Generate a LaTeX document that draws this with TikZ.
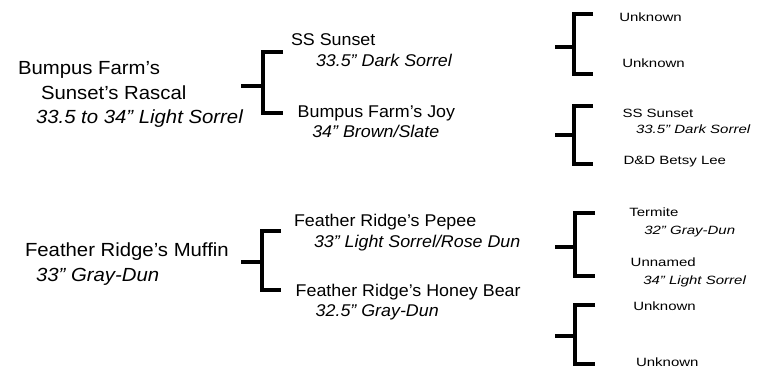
\documentclass[tikz,border=0pt]{standalone}
\usepackage{fontspec}
\usepackage{graphicx}
\setmainfont{Liberation Sans}
\newcommand\bigt[1]{\scalebox{1.07}[1]{#1}}
\newcommand\midt[1]{\scalebox{1.05}[1]{#1}}
\newcommand\smlt[1]{\scalebox{1.25}[1]{#1}}
\tikzset{
  lbl/.style={anchor=base west, inner sep=0pt, outer sep=0pt},
  bigl/.style={lbl, font=\fontsize{19}{23}\selectfont},
  midl/.style={lbl, font=\fontsize{17}{20}\selectfont},
  smll/.style={lbl, font=\fontsize{12}{14}\selectfont},
  brk/.style={line width=3.5pt, line join=miter, line cap=butt, black}
}
% bracket: name, x0 (stem start), x1 (vertical), x2 (arm end), ytop, ymid, ybot
\newcommand\pedbracket[7]{%
  \coordinate (#1-s) at (#2,#6);
  \coordinate (#1-m) at (#3,#6);
  \coordinate (#1-t) at (#4,#5);
  \coordinate (#1-b) at (#4,#7);
  \draw[brk] (#1-s) -- (#1-m);
  \draw[brk] (#1-t) -| (#1-m) |- (#1-b);
}
\begin{document}
\begin{tikzpicture}[x=1pt,y=-1pt]
\useasboundingbox (0,0) rectangle (765,375);
\fill[white] (0,0) rectangle (765,375);

% ---- left column
\node[bigl] (r1a) at (18,74) {\bigt{Bumpus Farm’s}};
\node[bigl] (r1b) at (41,99) {\bigt{Sunset’s Rascal}};
\node[bigl] (r1c) at (36,123) {\bigt{\itshape 33.5 to 34” Light Sorrel}};
\node[bigl] (r2a) at (25,256.7) {\bigt{Feather Ridge’s Muffin}};
\node[bigl] (r2b) at (36,281) {\bigt{\itshape 33” Gray-Dun}};

% ---- middle column
\node[midl] (s1a) at (291,45.7) {\midt{SS Sunset}};
\node[midl] (s1b) at (316,66.7) {\midt{\itshape 33.5” Dark Sorrel}};
\node[midl] (d1a) at (297.7,117.3) {\midt{Bumpus Farm’s Joy}};
\node[midl] (d1b) at (312.3,137.7) {\midt{\itshape 34” Brown/Slate}};
\node[midl] (s2a) at (294,226) {\midt{Feather Ridge’s Pepee}};
\node[midl] (s2b) at (314,247.3) {\midt{\itshape 33” Light Sorrel/Rose Dun}};
\node[midl] (d2a) at (295.7,296) {\midt{Feather Ridge’s Honey Bear}};
\node[midl] (d2b) at (315.7,316.7) {\midt{\itshape 32.5” Gray-Dun}};

% ---- right column
\node[smll] (g1) at (619.3,21.7) {\smlt{Unknown}};
\node[smll] (g2) at (622.3,67.3) {\smlt{Unknown}};
\node[smll] (g3a) at (622.5,117) {\smlt{SS Sunset}};
\node[smll] (g3b) at (636,133) {\smlt{\itshape 33.5” Dark Sorrel}};
\node[smll] (g4) at (623.5,164.2) {\smlt{D\&D Betsy Lee}};
\node[smll] (g5a) at (629.3,216) {\smlt{Termite}};
\node[smll] (g5b) at (644.3,234.3) {\smlt{\itshape 32” Gray-Dun}};
\node[smll] (g6a) at (630.7,266) {\smlt{Unnamed}};
\node[smll] (g6b) at (643.3,284.3) {\smlt{\itshape 34” Light Sorrel}};
\node[smll] (g7) at (633.3,310.7) {\smlt{Unknown}};
\node[smll] (g8) at (636,366.7) {\smlt{Unknown}};

% ---- brackets
\pedbracket{b1}{241}{263}{283}{52}{86}{113}
\pedbracket{b2}{241}{262}{281}{231}{262}{290}
\pedbracket{b3}{555}{574}{593}{14}{47}{74}
\pedbracket{b4}{555}{574}{593}{106}{135}{164}
\pedbracket{b5}{555}{575}{595}{213}{247}{276}
\pedbracket{b6}{555}{575}{595}{305}{336}{364}
\end{tikzpicture}
\end{document}
